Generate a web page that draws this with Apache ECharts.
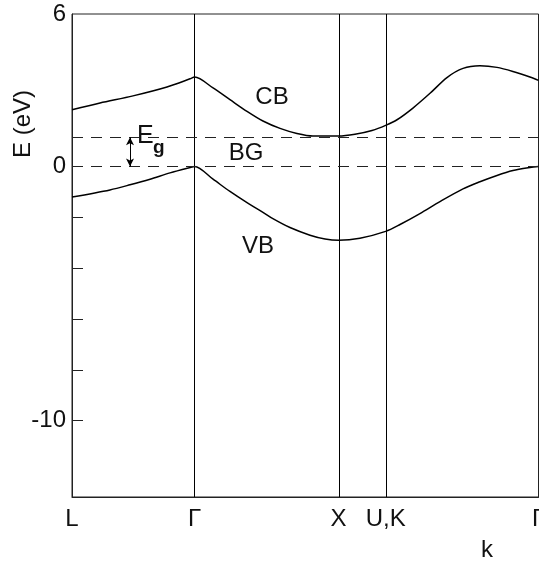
<!DOCTYPE html>
<html>
<head>
<meta charset="utf-8" />
<title>Band structure</title>
<script src="https://cdn.jsdelivr.net/npm/echarts@6.0.0/dist/echarts.min.js"></script>
</head>
<body style="margin:0; background:#fff">
<div id="main" style="width:539px; height:564px"></div>
<script type="text/javascript">
  // high symmetry points along k
  var kNames = ['L', '\u0393', 'X', 'U,K', '\u0393'];
  var kTicks = [0, 0.863, 1.875, 2.206, 3.281];

  // conduction band
  var cbK = [0, 0.197, 0.429, 0.668, 0.830, 0.863, 0.992, 1.111, 1.231, 1.343, 1.463, 1.582, 1.695, 1.875,
             1.990, 2.110, 2.206, 2.286, 2.398, 2.518, 2.637, 2.750, 2.869, 2.989, 3.101, 3.221, 3.281];
  var cbE = [2.23, 2.5, 2.78, 3.13, 3.45, 3.52, 3.09, 2.63, 2.17, 1.79, 1.5, 1.3, 1.2, 1.2,
             1.27, 1.42, 1.62, 1.84, 2.3, 2.88, 3.5, 3.86, 3.96, 3.9, 3.74, 3.52, 3.39];

  // valence band
  var vbK = [0, 0.267, 0.408, 0.549, 0.689, 0.830, 0.863, 0.992, 1.111, 1.231, 1.343, 1.413, 1.533, 1.674, 1.78, 1.875,
             2.025, 2.206, 2.307, 2.447, 2.588, 2.750, 2.869, 2.989, 3.101, 3.221, 3.281];
  var vbE = [-1.2, -0.92, -0.72, -0.5, -0.25, -0.04, 0, -0.5, -0.98, -1.42, -1.8, -2.05, -2.4, -2.7, -2.85, -2.9,
             -2.82, -2.55, -2.28, -1.85, -1.38, -0.88, -0.6, -0.35, -0.16, -0.04, 0];

  var gapE = 1.15;
  var arrowK = 0.408;
  var yLabels = [6, 0, -10];
  var yTicks = [-10, -8, -6, -4, -2];

  function pairs(xs, ys) {
    var out = [];
    for (var i = 0; i < xs.length; i++) out.push([xs[i], ys[i]]);
    return out;
  }

  var font = 'Liberation Sans, Arial, sans-serif';
  var ink = '#111';

  var chart = echarts.init(document.getElementById('main'));
  var option = {
    animation: false,
    grid: {
      left: 72, right: 0.5, top: 14, bottom: 67, containLabel: false, outerBoundsMode: 'none',
      show: true, borderColor: '#222', borderWidth: 1
    },
    xAxis: {
      type: 'value', min: 0, max: 3.281,
      splitLine: { show: false },
      axisLine: { onZero: false, lineStyle: { color: '#222' } },
      axisTick: { show: false },
      axisLabel: {
        customValues: kTicks, margin: 10,
        fontFamily: font, fontSize: 24, color: ink,
        formatter: function (v) {
          var i = kTicks.indexOf(v);
          return i >= 0 ? kNames[i] : '';
        }
      }
    },
    yAxis: {
      type: 'value', min: -13, max: 6,
      splitLine: { show: false },
      axisLine: { show: true, onZero: false, lineStyle: { color: '#222' } },
      axisTick: { show: true, inside: true, length: 11, customValues: yTicks, lineStyle: { color: '#222' } },
      axisLabel: { customValues: yLabels, margin: 6, fontFamily: font, fontSize: 24, color: ink }
    },
    series: [
      {
        type: 'line', data: pairs(cbK, cbE), smooth: 0.3, symbol: 'none',
        lineStyle: { color: '#000', width: 1.5 },
        markLine: {
          silent: true, symbol: 'none', label: { show: false },
          lineStyle: { color: '#000', width: 1, type: 'solid' },
          data: [{ xAxis: kTicks[1] }, { xAxis: kTicks[2] }, { xAxis: kTicks[3] }]
        }
      },
      {
        type: 'line', data: pairs(vbK, vbE), smooth: 0.3, symbol: 'none',
        lineStyle: { color: '#000', width: 1.5 },
        markLine: {
          silent: true, symbol: 'none', label: { show: false },
          lineStyle: { color: '#222', width: 1, type: [11, 8] },
          data: [{ yAxis: 0 }, { yAxis: gapE }]
        }
      },
      {
        type: 'line', data: [], symbol: 'none',
        markLine: {
          silent: true, symbol: ['arrow', 'arrow'], symbolSize: [6, 8], label: { show: false },
          lineStyle: { color: '#000', width: 1, type: 'solid' },
          data: [[{ coord: [arrowK, 0] }, { coord: [arrowK, gapE] }]]
        }
      }
    ],
    graphic: [
      { type: 'text', x: 23, y: 124, rotation: Math.PI / 2,
        style: { text: 'E (eV)', font: '24px ' + font, fill: ink, textAlign: 'center', textVerticalAlign: 'middle' } },
      { type: 'text', x: 272, y: 97,
        style: { text: 'CB', font: '24px ' + font, fill: ink, textAlign: 'center', textVerticalAlign: 'middle' } },
      { type: 'text', x: 246, y: 153,
        style: { text: 'BG', font: '24px ' + font, fill: ink, textAlign: 'center', textVerticalAlign: 'middle' } },
      { type: 'text', x: 258, y: 246,
        style: { text: 'VB', font: '24px ' + font, fill: ink, textAlign: 'center', textVerticalAlign: 'middle' } },
      { type: 'text', x: 137, y: 136,
        style: { text: 'E', font: '25px ' + font, fill: ink, textAlign: 'left', textVerticalAlign: 'middle' } },
      { type: 'text', x: 153, y: 148,
        style: { text: 'g', font: 'bold 19px ' + font, fill: ink, textAlign: 'left', textVerticalAlign: 'middle' } },
      { type: 'text', x: 487, y: 550,
        style: { text: 'k', font: '24px ' + font, fill: ink, textAlign: 'center', textVerticalAlign: 'middle' } }
    ]
  };
  chart.setOption(option);
</script>
</body>
</html>
